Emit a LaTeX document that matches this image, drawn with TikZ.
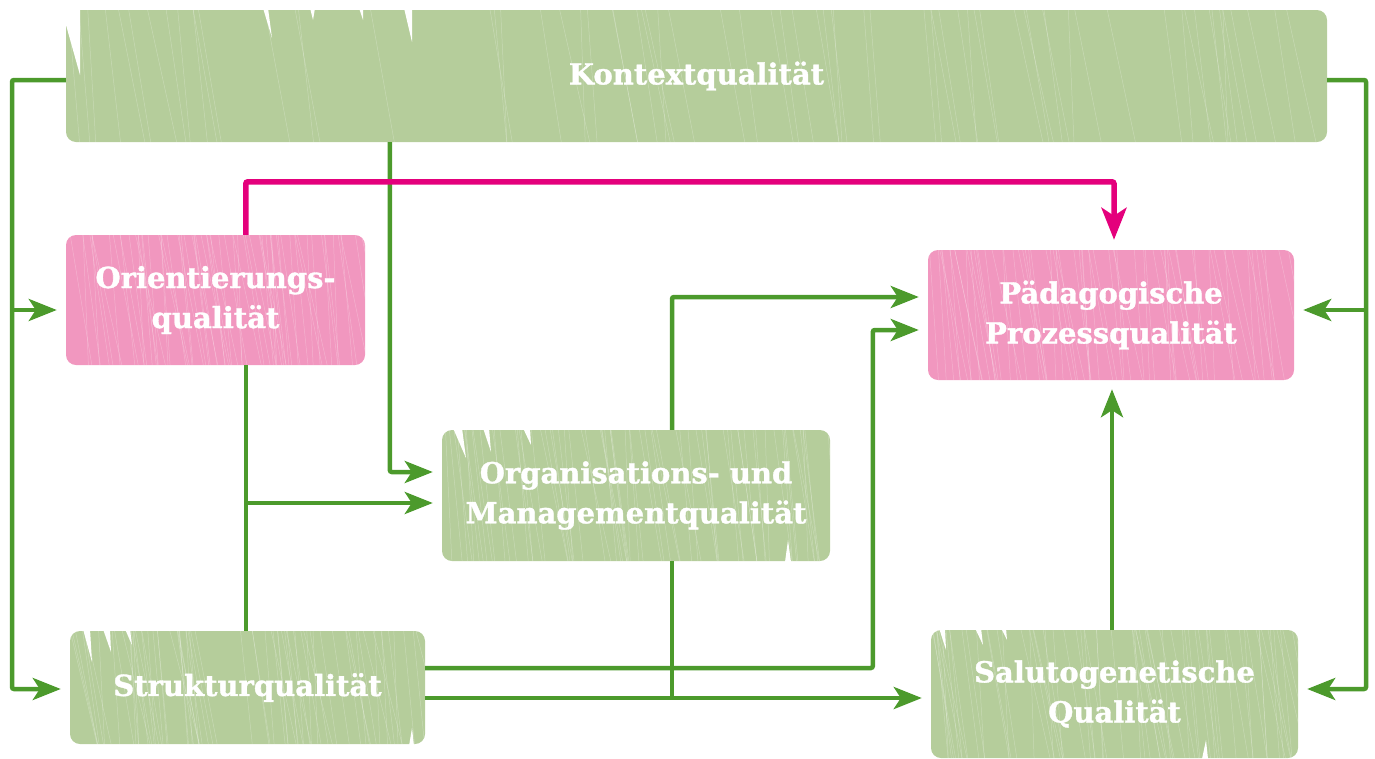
\documentclass[tikz,border=0pt]{standalone}
\usepackage{fontspec}
\setmainfont{DejaVu Serif}[BoldFeatures={FakeBold=1.2}]
\usetikzlibrary{arrows.meta,calc}
\definecolor{gbox}{HTML}{B5CD9B}
\definecolor{pbox}{HTML}{F197BF}
\definecolor{gline}{HTML}{4C9A2C}
\definecolor{pline}{HTML}{E4007C}
\begin{document}
\begin{tikzpicture}[x=1pt,y=-1pt,
  qbox/.style={rectangle, rounded corners=10pt, inner sep=0pt, align=center,
    text=white, font=\fontsize{29}{40}\selectfont\bfseries,
    path picture={
      \pgfmathsetseed{#1}
      \foreach \i in {1,...,70}{
        \pgfmathsetmacro\ta{rnd}
        \pgfmathsetmacro\dd{4+26*rnd}
        \draw[white,opacity=.25,line width=.5pt]
          ($(path picture bounding box.north west)!\ta!(path picture bounding box.north east)$)
          -- ($(path picture bounding box.south west)!\ta!(path picture bounding box.south east)+(\dd pt,0)$);
      }}},
  gq/.style={qbox=#1, fill=gbox},
  pq/.style={qbox=#1, fill=pbox},
  gl/.style={draw=gline, line width=4.5pt, rounded corners=2pt},
  garr/.style={gl, -{Stealth[length=28pt,width=22pt,inset=7pt]}, shorten >=9pt},
  parr/.style={draw=pline, line width=5.5pt, rounded corners=2pt,
    -{Stealth[length=32pt,width=25pt,inset=8pt]}, shorten >=10pt},
  wedge/.style={fill=white, draw=none}
]
\useasboundingbox (0,0) rectangle (1375,758);

% boxes
\node[gq=3, minimum width=1261pt, minimum height=132pt] (kon) at (696.5,76) {\raisebox{-4pt}{Kontextqualität}};
\node[pq=5, minimum width=299pt, minimum height=130pt] (ori) at (215.5,300) {\raisebox{-3pt}{Orientierungs-}\\\raisebox{-3pt}{qualität}};
\node[pq=7, minimum width=366pt, minimum height=130pt] (pad) at (1111,315) {\raisebox{-3pt}{Pädagogische}\\\raisebox{-3pt}{Prozessqualität}};
\node[gq=9, minimum width=388pt, minimum height=131pt] (org) at (636,495.5) {\raisebox{-3pt}{Organisations- und}\\\raisebox{-3pt}{Managementqualität}};
\node[gq=11, minimum width=355pt, minimum height=113pt] (str) at (247.5,687.5) {\raisebox{-3pt}{Strukturqualität}};
\node[gq=13, minimum width=367pt, minimum height=128pt] (sal) at (1114.5,694) {\raisebox{-2pt}{Salutogenetische}\\\raisebox{-2pt}{Qualität}};

% scribble gaps
\fill[wedge] (63,8) -- (80,8) -- (80,75) -- (66,25) -- (63,25) -- cycle;
\fill[wedge] (263,8) -- (268,8) -- (272,38) -- cycle;
\fill[wedge] (310,8) -- (315,8) -- (313,20) -- cycle;
\fill[wedge] (359,8) -- (363,8) -- (363,20) -- cycle;
\fill[wedge] (404,8) -- (412,8) -- (412,42) -- cycle;
\fill[wedge] (453,428) -- (462,428) -- (466,458) -- cycle;
\fill[wedge] (483,428) -- (489,428) -- (491,452) -- cycle;
\fill[wedge] (523,428) -- (530,428) -- (531,445) -- cycle;
\fill[wedge] (83,629) -- (90,629) -- (92,662) -- cycle;
\fill[wedge] (103,629) -- (110,629) -- (111,652) -- cycle;
\fill[wedge] (125,629) -- (130,629) -- (132,645) -- cycle;
\fill[wedge] (939,628) -- (945,628) -- (946,650) -- cycle;
\fill[wedge] (975,628) -- (981,628) -- (983,645) -- cycle;
\fill[wedge] (1001,628) -- (1006,628) -- (1007,640) -- cycle;
\fill[wedge] (409,746) -- (414,746) -- (412,728) -- cycle;
\fill[wedge] (1202,759) -- (1208,759) -- (1206,740) -- cycle;
\fill[wedge] (785,562) -- (791,562) -- (788,540) -- cycle;

% helper coordinates
\coordinate (L) at (12,0);
\coordinate (R) at (1366,0);
\coordinate (oriin) at ($(ori.west)+(0,10)$);
\coordinate (padinR) at ($(pad.east)+(0,-5)$);
\coordinate (salinR) at ($(sal.east)+(0,-5)$);
\coordinate (strin) at ($(str.west)+(0,1.5)$);
\coordinate (orgin1) at ($(org.west)+(0,-23.5)$);
\coordinate (orgin2) at ($(org.west)+(0,7.5)$);
\coordinate (konbot) at ($(kon.south west)+(324,0)$);
\coordinate (oribot) at ($(ori.south west)+(180,0)$);
\coordinate (oritop) at ($(ori.north west)+(180,0)$);
\coordinate (padtop) at ($(pad.north)+(3,0)$);
\coordinate (padin1) at ($(pad.west)+(0,-18)$);
\coordinate (padin2) at ($(pad.west)+(0,15)$);
\coordinate (padbot) at ($(pad.south)+(1,0)$);
\coordinate (orgtop) at ($(org.north)+(36,0)$);
\coordinate (orgbot) at ($(org.south)+(36,0)$);
\coordinate (strout1) at ($(str.east)+(0,-19.5)$);
\coordinate (strout2) at ($(str.east)+(0,10.5)$);
\coordinate (salin) at ($(sal.west)+(0,4)$);
\coordinate (saltop) at ($(sal.north)+(-2.5,0)$);

% green connectors
\draw[garr] ($(kon.west)+(0,4)$) -| (L |- strin) -- (strin);
\draw[garr] (L |- oriin) -- (oriin);
\draw[garr] ($(kon.east)+(0,4)$) -| (R |- salinR) -- (salinR);
\draw[garr] (R |- padinR) -- (padinR);
\draw[garr] (konbot) |- (orgin1);
\draw[gl] (oribot) -- (oribot |- str.north);
\draw[garr] (oribot |- orgin2) -- (orgin2);
\draw[garr] (orgtop) |- (padin1);
\draw[garr] (strout1) -| ($(padin2)+(-55,0)$) -- (padin2);
\draw[garr] (strout2) -- (strout2 -| salin);
\draw[gl] (orgbot) -- (orgbot |- strout2);
\draw[garr] (saltop) -- (saltop |- padbot);

% pink connector
\draw[parr] (oritop) |- ($(padtop)+(0,-68)$) -- (padtop);
\end{tikzpicture}
\end{document}
